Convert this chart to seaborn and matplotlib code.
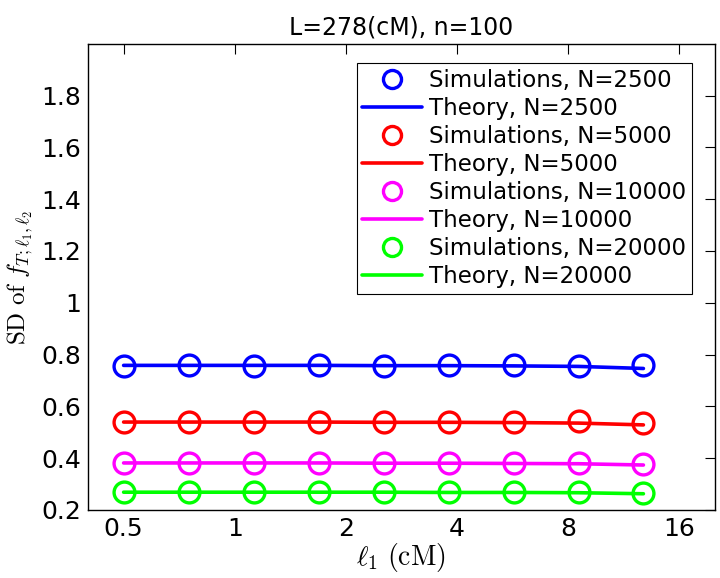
import numpy as np
import pandas as pd
import matplotlib
matplotlib.use("Agg")
import matplotlib.pyplot as plt
import seaborn as sns
from matplotlib.lines import Line2D
from matplotlib.ticker import NullLocator

sns.set_style("white")
plt.rcParams['font.family'] = ['DejaVu Sans']
plt.rcParams['mathtext.fontset'] = 'cm'
plt.rcParams['text.color'] = 'black'
plt.rcParams['axes.labelcolor'] = 'black'
plt.rcParams['xtick.color'] = 'black'
plt.rcParams['ytick.color'] = 'black'

# ---- data ----
l1 = [0.5, 0.75, 1.125, 1.6875, 2.53, 3.8, 5.7, 8.54, 12.8]
pop_sizes = [2500, 5000, 10000, 20000]
colors = ['#0000ff', '#ff0000', '#ff00ff', '#00ff00']

sim_2500 = [0.757, 0.760, 0.757, 0.760, 0.757, 0.759, 0.759, 0.757, 0.760]
sim_5000 = [0.539, 0.541, 0.538, 0.539, 0.538, 0.539, 0.538, 0.543, 0.534]
sim_10000 = [0.382, 0.382, 0.381, 0.382, 0.381, 0.381, 0.380, 0.380, 0.378]
sim_20000 = [0.268, 0.269, 0.267, 0.268, 0.267, 0.268, 0.267, 0.267, 0.264]

theory_2500 = [0.758, 0.758, 0.758, 0.758, 0.757, 0.757, 0.756, 0.754, 0.746]
theory_5000 = [0.539, 0.539, 0.539, 0.539, 0.538, 0.538, 0.537, 0.535, 0.528]
theory_10000 = [0.381, 0.381, 0.381, 0.381, 0.380, 0.380, 0.379, 0.378, 0.373]
theory_20000 = [0.268, 0.268, 0.268, 0.268, 0.268, 0.267, 0.267, 0.266, 0.262]

x_ticks = [0.5, 1, 2, 4, 8, 16]
x_ticklabels = ['0.5', '1', '2', '4', '8', '16']
y_ticks = [0.2, 0.4, 0.6, 0.8, 1.0, 1.2, 1.4, 1.6, 1.8]
y_ticklabels = ['0.2', '0.4', '0.6', '0.8', '1', '1.2', '1.4', '1.6', '1.8']

sims = [sim_2500, sim_5000, sim_10000, sim_20000]
theories = [theory_2500, theory_5000, theory_10000, theory_20000]

fig = plt.figure(figsize=(7.2, 5.78), dpi=100)
ax = fig.add_axes([0.122, 0.118, 0.871, 0.806])

handles, labels = [], []
for N, c, s, t in zip(pop_sizes, colors, sims, theories):
    df = pd.DataFrame({'l1': l1, 'sim': s, 'theory': t})
    sns.lineplot(data=df, x='l1', y='theory', color=c, lw=2.6, errorbar=None, ax=ax)
    sns.lineplot(data=df, x='l1', y='sim', color=c, linestyle='', marker='o',
                 markersize=15, markerfacecolor='none', markeredgecolor=c,
                 markeredgewidth=2.4, errorbar=None, ax=ax)
    handles.append(Line2D([], [], linestyle='', marker='o', markersize=13,
                          markerfacecolor='none', markeredgecolor=c, markeredgewidth=2.4))
    labels.append(f'Simulations, N={N}')
    handles.append(Line2D([], [], color=c, lw=2.6))
    labels.append(f'Theory, N={N}')

ax.set_xscale('log', base=2)
ax.set_xlim(0.4, 20)
ax.set_ylim(0.2, 2.0)
ax.set_xticks(x_ticks)
ax.set_xticklabels(x_ticklabels)
ax.xaxis.set_minor_locator(NullLocator())
ax.set_yticks(y_ticks)
ax.set_yticklabels(y_ticklabels)
ax.tick_params(direction='in', length=7, width=0.8, labelsize=18,
               top=True, right=True, colors='black', pad=5)
for sp in ax.spines.values():
    sp.set_color('black')
    sp.set_linewidth(1.0)

ax.set_xlabel(r'$\ell_1\ \mathrm{(cM)}$', fontsize=20, labelpad=0)
ax.set_ylabel(r'$\mathrm{SD\ of\ }f_{T;\ell_1,\ell_2}$', fontsize=18, labelpad=4)
ax.set_title('L=278(cM), n=100', fontsize=17, pad=7)

leg = ax.legend(handles, labels, loc='upper right', bbox_to_anchor=(0.963, 0.959),
                borderaxespad=0, fontsize=16.5, handlelength=2.6, handletextpad=0.3,
                labelspacing=0.22, fancybox=False, framealpha=1, borderpad=0.25)
leg.get_frame().set_edgecolor('black')
leg.get_frame().set_linewidth(0.8)

fig.savefig('out.png', dpi=100)
